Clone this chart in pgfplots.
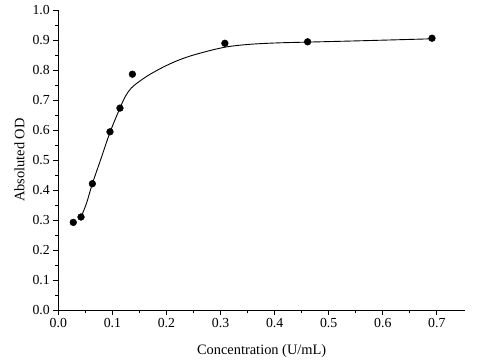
\documentclass[border=0pt]{standalone}
\usepackage{fontspec}
\setmainfont{Liberation Serif}
\usepackage{pgfplots}
\pgfplotsset{compat=1.18}
\begin{document}
\begin{tikzpicture}[x=1pt,y=1pt]
\useasboundingbox (-58.3pt,-50pt) rectangle (421.7pt,310pt);
\begin{axis}[
  at={(0pt,0pt)}, anchor=south west,
  scale only axis, width=406.7pt, height=300pt,
  xmin=0, xmax=0.752, ymin=0, ymax=1.0,
  axis lines*=left,
  axis line style={line width=0.9pt},
  tick align=outside,
  major tick length=5pt, minor tick length=3pt,
  every tick/.style={black, line width=0.8pt},
  xtick={0,0.1,...,0.7}, ytick={0,0.1,...,1.0},
  minor x tick num=1, minor y tick num=1,
  scaled ticks=false,
  /pgf/number format/assume math mode=true,
  xticklabel={\pgfmathprintnumber[fixed,fixed zerofill,precision=1]{\tick}},
  yticklabel={\pgfmathprintnumber[fixed,fixed zerofill,precision=1]{\tick}},
  tick label style={font=\fontsize{13.8}{15}\selectfont},
  label style={font=\fontsize{14.4}{16}\selectfont},
  xlabel={Concentration (U/mL)},
  ylabel={Absoluted OD},
  xlabel style={at={(axis description cs:0.5,0)}, anchor=base, yshift=-44pt},
  ylabel style={at={(axis description cs:0,0.5)}, anchor=base, yshift=34pt},
  clip=false,
]
\addplot[black, line width=0.9pt, smooth, tension=0.6] coordinates {
(0.042,0.310) (0.052,0.355) (0.063,0.421) (0.080,0.510) (0.096,0.594)
(0.114,0.673) (0.124,0.712) (0.135,0.740) (0.150,0.762)
(0.170,0.786) (0.200,0.815) (0.230,0.838) (0.262,0.856)
(0.308,0.876) (0.350,0.885) (0.400,0.890) (0.461,0.893) (0.550,0.897)
(0.691,0.904)
};
\addplot[only marks, mark=*, mark size=3.4pt, black] coordinates {
(0.0277,0.292) (0.042,0.310) (0.063,0.421) (0.0956,0.594) (0.114,0.673)
(0.137,0.786) (0.308,0.889) (0.461,0.894) (0.691,0.906)
};
\end{axis}
\end{tikzpicture}
\end{document}
